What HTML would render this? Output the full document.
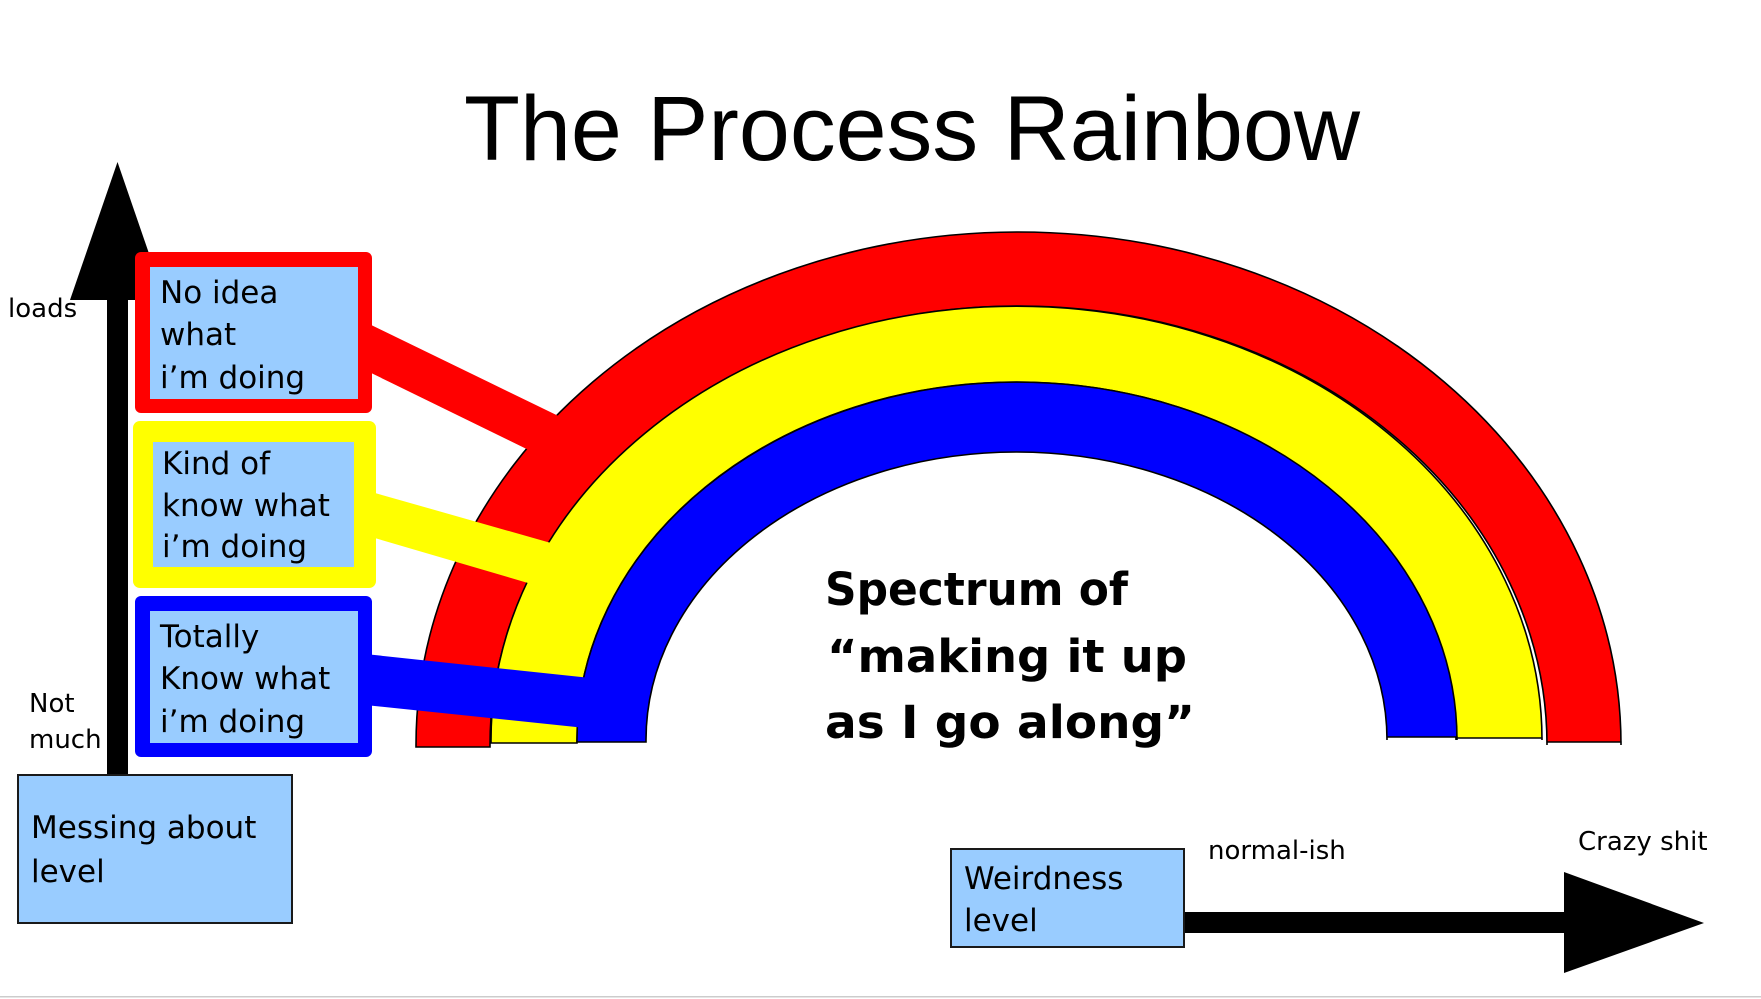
<!DOCTYPE html>
<html>
<head>
<meta charset="utf-8">
<style>
  html,body{margin:0;padding:0;background:#fff;}
  svg{display:block;}
  .box{font-family:"DejaVu Sans","Liberation Sans",sans-serif;font-size:31px;fill:#000;}
  .lbl{font-family:"DejaVu Sans","Liberation Sans",sans-serif;font-size:26px;fill:#000;}
  .sp{font-family:"DejaVu Sans","Liberation Sans",sans-serif;font-size:45px;font-weight:bold;fill:#000;}
</style>
</head>
<body>
<svg width="1761" height="999" viewBox="0 0 1761 999" xmlns="http://www.w3.org/2000/svg">
  <rect x="0" y="0" width="1761" height="999" fill="#fff"/>

  <!-- Title -->
  <text x="464" y="160" font-family="Liberation Sans, Arial, sans-serif" font-size="92" textLength="896" lengthAdjust="spacingAndGlyphs">The Process Rainbow</text>

  <!-- Vertical arrow -->
  <polygon points="117.5,162 70,300 165,300" fill="#000"/>
  <rect x="107" y="295" width="21" height="481" fill="#000"/>

  <!-- Rainbow arcs -->
  <path d="M 416 747 L 416 745 A 602.5 513 0 0 1 1621 745 L 1621 742 L 1547 742 L 1547 745 A 528.5 439 0 0 0 490 745 L 490 747 Z" fill="#ff0000" stroke="#000" stroke-width="1.6"/>
  <path d="M 491 743 L 491 740 A 525.5 434 0 0 1 1542 740 L 1542 738 L 1456 738 L 1456 740 A 439.5 358 0 0 0 577 740 L 577 743 Z" fill="#ffff00" stroke="#000" stroke-width="1.6"/>
  <path d="M 577 742 L 577 740 A 440 358 0 0 1 1457 740 L 1457 737 L 1387 737 L 1387 740 A 370.5 288 0 0 0 646 740 L 646 742 Z" fill="#0000ff" stroke="#000" stroke-width="1.6"/>

  <!-- Connectors -->
  <polygon points="365,322 575,424 545,458 365,370" fill="#ff0000"/>
  <polygon points="368,491 572,549 545,588 368,536" fill="#ffff00"/>
  <polygon points="365,654 600,679 595,729 365,705" fill="#0000ff"/>

  <!-- Red box -->
  <rect x="135" y="252" width="237" height="161" rx="6" ry="6" fill="#ff0000"/>
  <rect x="150" y="267" width="208" height="132" fill="#99ccff"/>
  <text class="box" x="160" y="303">No idea</text>
  <text class="box" x="160" y="345">what</text>
  <text class="box" x="160" y="388">i’m doing</text>

  <!-- Yellow box -->
  <rect x="133" y="421" width="243" height="167" rx="7" ry="7" fill="#ffff00"/>
  <rect x="153" y="442" width="201" height="125" fill="#99ccff"/>
  <text class="box" x="162" y="474">Kind of</text>
  <text class="box" x="162" y="516">know what</text>
  <text class="box" x="162" y="557">i’m doing</text>

  <!-- Blue box -->
  <rect x="135" y="596" width="237" height="161" rx="6" ry="6" fill="#0000ff"/>
  <rect x="150" y="611" width="208" height="132" fill="#99ccff"/>
  <text class="box" x="160" y="647">Totally</text>
  <text class="box" x="160" y="689">Know what</text>
  <text class="box" x="160" y="732">i’m doing</text>

  <!-- Axis labels -->
  <text class="lbl" x="8" y="317">loads</text>
  <text class="lbl" x="29" y="712">Not</text>
  <text class="lbl" x="29" y="748">much</text>

  <!-- Messing box -->
  <rect x="18" y="775" width="274" height="148" fill="#99ccff" stroke="#1a1a1a" stroke-width="2"/>
  <text class="box" x="31" y="838">Messing about</text>
  <text class="box" x="31" y="882">level</text>

  <!-- Spectrum text -->
  <text class="sp" x="825" y="605" textLength="303" lengthAdjust="spacingAndGlyphs">Spectrum of</text>
  <text class="sp" x="827" y="672" textLength="360" lengthAdjust="spacingAndGlyphs">“making it up</text>
  <text class="sp" x="825" y="738" textLength="370" lengthAdjust="spacingAndGlyphs">as I go along”</text>

  <!-- Horizontal arrow -->
  <rect x="1183" y="912" width="385" height="21" fill="#000"/>
  <polygon points="1564,872 1704,923 1564,973" fill="#000"/>

  <!-- Weirdness box -->
  <rect x="951" y="849" width="233" height="98" fill="#99ccff" stroke="#1a1a1a" stroke-width="2"/>
  <text class="box" x="964" y="889">Weirdness</text>
  <text class="box" x="964" y="931">level</text>

  <text class="lbl" x="1208" y="859" font-size="27">normal-ish</text>
  <text class="lbl" x="1578" y="850" font-size="27">Crazy shit</text>

  <!-- bottom rule -->
  <rect x="0" y="996" width="1761" height="1.5" fill="#cccccc"/>
</svg>
</body>
</html>
